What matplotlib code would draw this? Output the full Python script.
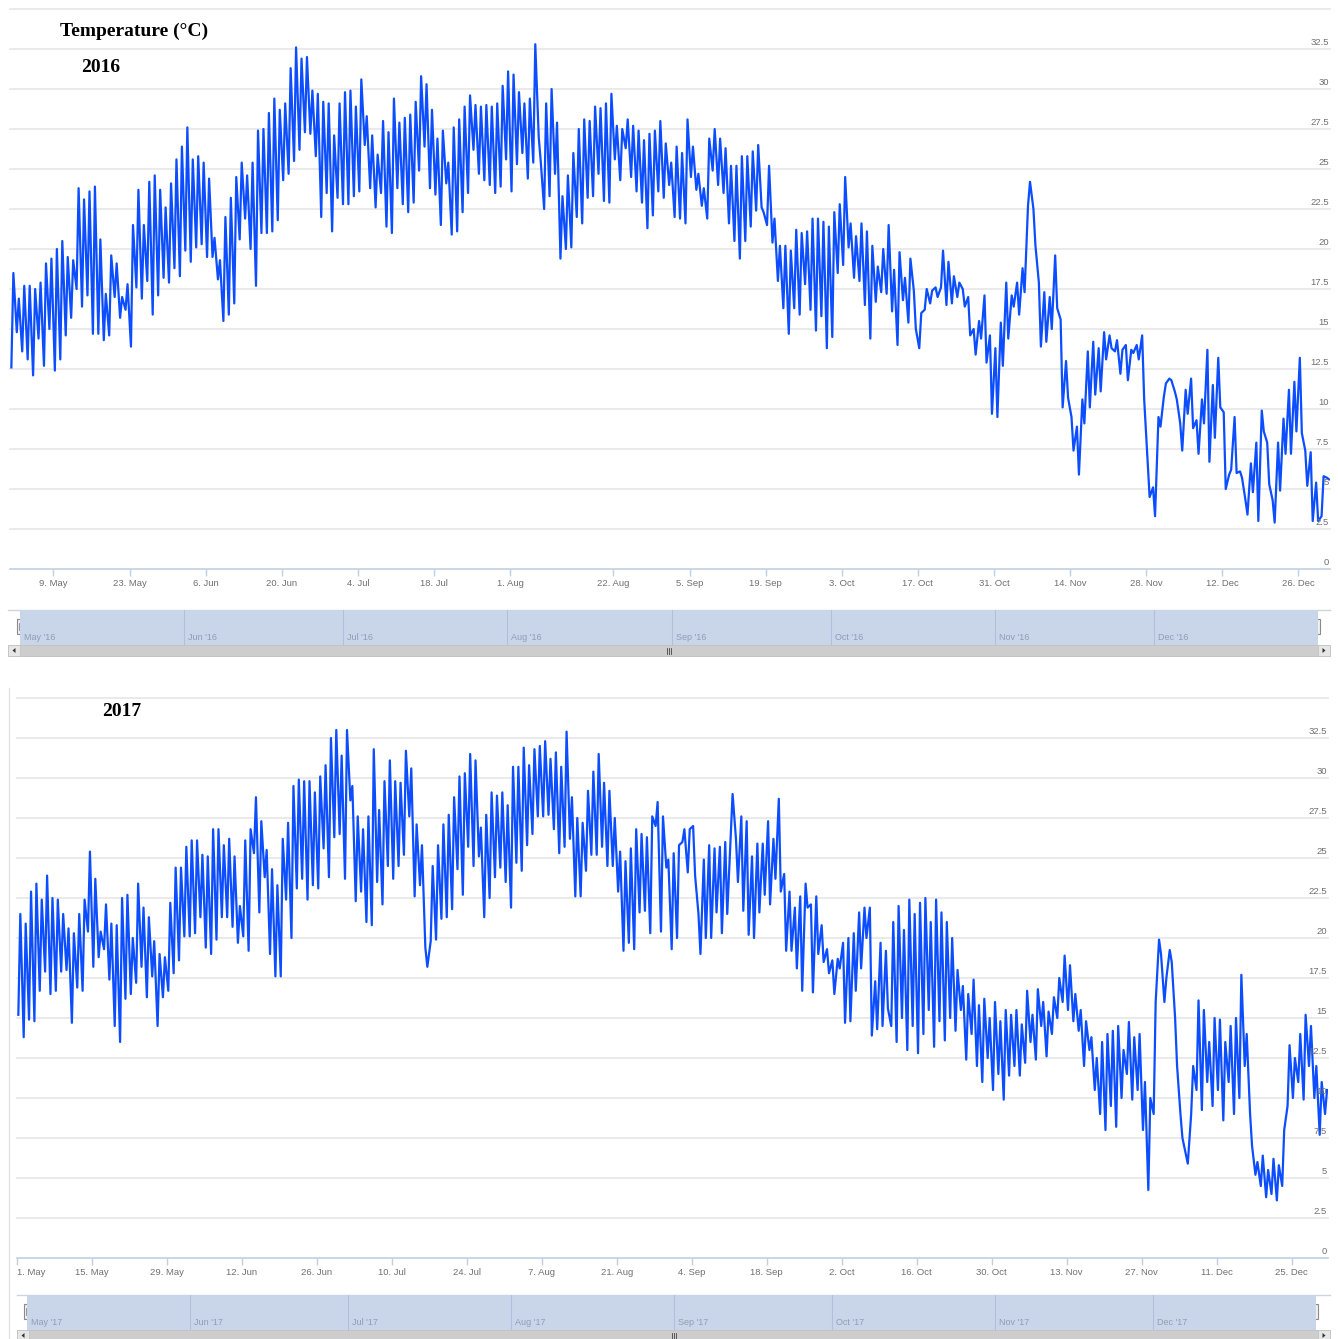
import matplotlib
matplotlib.use('Agg')
import matplotlib.pyplot as plt
from matplotlib.patches import Rectangle, Polygon
from matplotlib.transforms import blended_transform_factory, offset_copy
import numpy as np
import pandas as pd

plt.rcParams['font.family'] = ['Liberation Sans', 'DejaVu Sans']

W, H = 1338, 1339

# two readings per day (night, afternoon), 1 May - 31 Dec
# 2016: no readings on 6-7 Aug (ordinal axis skips them)
t16 = [
    # May
    12.6, 18.5, 14.8, 16.9, 13.6, 17.7, 13.1, 17.7, 12.1, 17.5,
    14.4, 17.9, 12.7, 19.1, 15.0, 19.4, 12.4, 20.0, 13.1, 20.5,
    14.6, 19.5, 15.7, 19.3, 17.5, 23.8, 16.4, 23.1, 17.1, 23.6,
    14.7, 23.9, 14.7, 20.6, 14.3, 17.2, 14.6, 19.6, 17.0, 19.1,
    15.7, 17.0, 16.2, 17.8, 13.9, 21.5, 17.6, 23.7, 16.9, 21.5,
    18.0, 24.2, 15.9, 24.6, 17.1, 23.7, 18.2, 22.6, 17.9, 24.1,
    18.8, 25.6,
    # Jun
    18.3, 26.4, 19.9, 27.6, 19.2, 25.6, 20.1, 25.8, 20.3, 25.4,
    19.5, 24.4, 19.5, 20.7, 18.1, 19.3, 15.5, 22.0, 15.9, 23.2,
    16.6, 24.5, 20.6, 25.4, 21.9, 24.6, 20.0, 25.4, 17.7, 27.4,
    21.0, 27.5, 21.0, 28.5, 21.1, 29.4, 21.8, 28.7, 24.3, 29.1,
    24.7, 31.3, 25.5, 32.6, 26.2, 31.9, 27.3, 32.0, 27.2, 29.9,
    25.8, 29.7, 22.0, 29.2, 23.5, 29.1, 21.1, 27.1, 23.2, 29.1,
    # Jul
    22.8, 29.8, 22.8, 29.9, 23.3, 28.9, 23.6, 30.6, 26.5, 28.3,
    23.8, 27.1, 22.6, 25.9, 23.5, 28.0, 21.4, 27.3, 21.0, 29.4,
    23.8, 27.9, 22.8, 28.2, 22.3, 28.4, 22.9, 29.2, 24.9, 30.8,
    26.4, 30.3, 23.8, 28.7, 23.4, 26.9, 21.5, 27.4, 24.1, 25.4,
    20.9, 27.6, 21.1, 28.1, 22.3, 28.9, 23.5, 29.6, 26.2, 29.0,
    24.7, 28.9, 24.3, 29.0, 24.0, 28.9, 23.5, 29.1, 23.9, 30.2,
    25.6, 31.1,
    # Aug
    23.6, 30.9, 25.3, 29.8, 26.0, 29.1, 24.4, 29.4, 25.4, 32.8,
    27.0, 25.5, 22.5, 29.1, 23.3, 30.0, 24.7, 27.9, 19.4, 23.3,
    20.0, 24.6, 20.1, 26.0, 22.0, 27.5, 21.6, 28.1, 23.2, 28.0,
    23.3, 28.9, 24.7, 28.8, 23.0, 29.1, 22.9, 29.7, 25.6, 27.7,
    24.3, 27.5, 26.3, 28.1, 24.5, 27.7, 23.6, 27.4, 22.9, 26.8,
    21.3, 27.2, 22.1, 27.4, 23.6, 28.0, 23.2, 26.6,
    # Sep
    24.0, 25.4, 22.0, 26.4, 21.9, 26.0, 21.6, 28.1, 24.5, 26.4,
    23.7, 24.7, 22.7, 23.8, 21.9, 26.9, 24.9, 27.5, 24.0, 26.9,
    23.5, 26.3, 21.6, 25.2, 20.5, 25.2, 19.4, 25.8, 20.5, 25.8,
    21.4, 26.1, 22.4, 26.5, 22.6, 22.3, 21.5, 25.2, 20.4, 21.9,
    18.0, 20.2, 16.3, 20.2, 14.7, 19.9, 16.3, 21.2, 15.9, 21.0,
    17.8, 21.1, 16.2, 21.9, 14.9, 21.9, 15.8, 21.7, 13.8, 21.4,
    # Oct
    14.5, 22.3, 18.5, 22.8, 19.0, 24.5, 20.1, 21.6, 18.2, 20.8,
    18.0, 21.6, 16.5, 21.1, 14.4, 20.2, 16.7, 18.9, 17.3, 20.0,
    17.2, 21.5, 16.1, 18.7, 14.0, 19.8, 16.8, 18.2, 15.4, 19.4,
    17.4, 15.0, 13.8, 16.0, 16.2, 17.5, 16.6, 17.4, 17.6, 17.0,
    17.6, 19.9, 16.5, 19.2, 16.6, 18.3, 17.0, 17.9, 17.5, 16.4,
    17.0, 14.6, 15.0, 13.4, 15.5, 14.4, 17.1, 12.9, 14.6, 9.7,
    13.8, 9.5,
    # Nov
    15.4, 12.7, 17.9, 14.4, 17.1, 16.4, 17.9, 15.9, 18.8, 17.3,
    22.7, 24.2, 22.5, 20.2, 17.9, 13.9, 17.3, 14.2, 17.0, 15.0,
    19.6, 16.3, 15.6, 10.1, 13.0, 10.7, 9.5, 7.4, 8.9, 5.9,
    10.6, 9.1, 13.6, 10.1, 14.2, 10.9, 13.8, 11.1, 14.8, 13.1,
    14.6, 13.8, 13.6, 14.3, 12.2, 13.7, 14.0, 11.8, 13.7, 13.5,
    14.0, 13.1, 14.6, 10.6, 6.8, 4.5, 5.1, 3.3, 9.5, 8.9,
    # Dec
    10.8, 11.6, 11.9, 11.8, 11.1, 10.6, 9.1, 7.4, 11.2, 9.7,
    11.9, 8.8, 9.3, 7.2, 10.6, 9.1, 13.7, 6.7, 11.5, 8.2,
    13.2, 10.1, 9.8, 5.0, 5.9, 6.2, 9.5, 6.0, 6.1, 5.7,
    4.3, 3.4, 6.6, 4.8, 7.9, 3.0, 9.9, 8.6, 7.9, 5.3,
    4.3, 2.9, 7.9, 4.9, 9.4, 7.2, 11.2, 7.2, 11.7, 8.6,
    13.2, 8.5, 7.4, 5.2, 7.3, 3.0, 5.4, 3.0, 3.3, 5.8,
    5.7, 5.6,
]

t17 = [
    # May
    15.2, 21.5, 13.8, 20.9, 14.9, 22.9, 14.8, 23.4, 16.7, 22.4,
    17.9, 23.9, 16.5, 22.5, 16.7, 22.4, 17.9, 21.5, 18.0, 20.6,
    14.7, 20.3, 16.9, 21.5, 16.7, 22.4, 20.4, 25.4, 18.2, 23.7,
    18.8, 20.4, 19.3, 22.1, 17.4, 20.9, 14.5, 20.8, 13.5, 22.5,
    16.2, 22.7, 16.5, 20.0, 17.2, 23.4, 18.2, 21.9, 16.3, 21.3,
    17.6, 19.8, 14.5, 19.0, 16.3, 18.8, 16.7, 22.2, 17.8, 24.4,
    18.6, 24.4,
    # Jun
    20.1, 25.7, 20.1, 26.1, 20.3, 26.1, 21.3, 25.2, 19.4, 25.1,
    19.0, 26.8, 19.9, 26.8, 21.3, 25.8, 21.3, 26.2, 20.7, 25.1,
    19.7, 22.0, 20.1, 26.1, 19.2, 26.8, 25.3, 28.8, 21.6, 27.3,
    23.8, 25.5, 19.0, 24.3, 17.6, 23.3, 17.6, 26.2, 22.4, 27.2,
    20.0, 29.5, 23.1, 29.9, 23.7, 29.8, 22.4, 29.8, 23.3, 29.1,
    23.1, 30.1, 25.6, 30.8, 23.8, 32.5, 26.3, 33.0, 26.5, 31.4,
    # Jul
    23.7, 33.0, 28.6, 29.5, 22.3, 27.6, 22.9, 26.8, 21.0, 27.6,
    20.8, 31.8, 23.5, 28.0, 22.1, 29.8, 24.5, 31.1, 23.7, 29.8,
    24.5, 29.7, 25.2, 31.7, 27.6, 30.6, 22.6, 27.1, 23.3, 25.8,
    19.4, 18.2, 19.8, 24.5, 19.9, 25.8, 21.2, 27.1, 21.3, 27.7,
    21.8, 28.8, 24.3, 30.1, 22.7, 30.3, 25.7, 31.5, 24.5, 31.1,
    25.1, 26.9, 21.3, 27.7, 22.5, 29.1, 23.8, 28.9, 24.4, 29.1,
    23.5, 28.3,
    # Aug
    21.9, 30.7, 24.7, 30.7, 24.2, 31.9, 25.8, 30.8, 26.5, 31.8,
    27.6, 32.0, 27.6, 32.3, 27.7, 31.2, 26.8, 31.6, 25.3, 30.7,
    25.7, 32.9, 26.2, 28.8, 22.6, 27.5, 22.6, 27.2, 24.2, 29.2,
    25.2, 30.4, 25.2, 31.5, 25.7, 29.7, 24.5, 29.2, 24.5, 27.5,
    22.9, 25.4, 19.2, 24.8, 19.7, 25.6, 19.3, 26.8, 21.6, 26.5,
    21.7, 26.3, 20.3, 27.6, 27.0, 28.5, 20.4, 27.6, 24.4, 24.9,
    19.3, 25.3,
    # Sep
    20.0, 25.8, 26.0, 26.8, 24.1, 26.8, 27.0, 23.9, 21.5, 19.0,
    24.9, 20.0, 25.8, 20.0, 25.6, 21.6, 25.7, 20.3, 26.0, 21.5,
    26.2, 29.0, 26.2, 23.5, 27.6, 21.7, 27.3, 20.2, 25.1, 20.0,
    25.9, 21.6, 25.9, 22.7, 27.3, 22.1, 26.2, 23.7, 28.7, 22.9,
    24.0, 19.2, 22.9, 19.2, 21.9, 18.1, 22.6, 16.7, 23.4, 21.9,
    22.1, 16.6, 22.6, 19.0, 20.8, 18.5, 19.3, 17.8, 18.6, 16.5,
    # Oct
    18.7, 18.1, 19.7, 14.7, 20.0, 14.8, 20.3, 16.7, 21.6, 18.1,
    21.9, 20.0, 21.9, 13.9, 17.3, 14.3, 19.7, 14.5, 19.2, 15.6,
    14.5, 21.0, 13.5, 22.0, 15.0, 20.5, 13.0, 22.4, 14.5, 21.5,
    12.8, 22.2, 14.0, 22.5, 15.5, 21.0, 13.2, 22.4, 14.8, 21.6,
    13.6, 21.0, 15.0, 20.0, 14.2, 18.0, 15.5, 17.0, 12.4, 16.5,
    14.0, 17.4, 12.0, 15.8, 11.0, 16.2, 12.5, 15.0, 10.5, 16.0,
    11.5, 14.8,
    # Nov
    9.9, 15.5, 11.4, 15.2, 12.0, 15.5, 11.4, 14.6, 12.2, 16.7,
    13.5, 15.2, 12.4, 16.8, 14.5, 16.0, 12.6, 15.4, 14.0, 16.3,
    15.0, 17.5, 16.0, 18.9, 15.5, 18.3, 14.8, 16.5, 14.2, 15.5,
    12.0, 14.8, 13.0, 13.8, 10.5, 12.5, 9.0, 13.5, 8.0, 14.0,
    9.5, 14.2, 8.2, 14.5, 10.0, 13.0, 11.5, 14.75, 9.9, 13.8,
    10.5, 14.0, 8.0, 11.0, 4.25, 10.0, 9.0, 16.0, 19.9, 19.0,
    # Dec
    16.0, 17.5, 19.25, 18.5, 15.0, 12.0, 9.0, 7.5, 6.5, 5.9,
    9.0, 12.0, 10.5, 16.1, 9.25, 15.5, 11.0, 13.5, 9.5, 15.0,
    10.5, 14.9, 8.6, 13.5, 11.0, 14.5, 9.0, 15.0, 10.0, 17.7,
    12.0, 14.0, 9.0, 7.0, 5.2, 6.0, 4.5, 6.4, 3.8, 5.5,
    4.0, 6.2, 3.6, 5.8, 4.5, 8.0, 9.5, 13.3, 10.0, 12.5,
    11.0, 14.0, 9.9, 15.2, 12.0, 14.5, 10.0, 12.0, 7.7, 11.0,
    9.0, 10.5,
]

missing16 = ['2016-08-06', '2016-08-07']
ticks16 = ['2016-05-09', '2016-05-23', '2016-06-06', '2016-06-20', '2016-07-04',
           '2016-07-18', '2016-08-01', '2016-08-22', '2016-09-05', '2016-09-19',
           '2016-10-03', '2016-10-17', '2016-10-31', '2016-11-14', '2016-11-28',
           '2016-12-12', '2016-12-26']
ticks17 = ['2017-05-01', '2017-05-15', '2017-05-29', '2017-06-12', '2017-06-26',
           '2017-07-10', '2017-07-24', '2017-08-07', '2017-08-21', '2017-09-04',
           '2017-09-18', '2017-10-02', '2017-10-16', '2017-10-30', '2017-11-13',
           '2017-11-27', '2017-12-11', '2017-12-25']
y_ticks = [0, 2.5, 5, 7.5, 10, 12.5, 15, 17.5, 20, 22.5, 25, 27.5, 30, 32.5]

BLUE = '#0b4dff'
GRID = '#e6e6e6'
AXIS = '#c0d0e0'
LABEL = '#707070'
NAV = '#c9d6ea'
NAV_LINE = '#b0c0da'
NAV_TEXT = '#8e9cb6'

fig = plt.figure(figsize=(W / 100, H / 100), dpi=100)

bg = fig.add_axes([0, 0, 1, 1], zorder=0)
bg.set_xlim(0, W)
bg.set_ylim(H, 0)
bg.axis('off')


def px_axes(x0, y0, x1, y1, z=2):
    a = fig.add_axes([x0 / W, 1 - y1 / H, (x1 - x0) / W, (y1 - y0) / H], zorder=z)
    a.set_facecolor('none')
    return a


def draw_year(year, temps, missing, tick_days, plot_box, nav_box, bar_box, first_left):
    days = pd.date_range(f'{year}-05-01', f'{year}-12-31')
    days = days[~days.isin(pd.to_datetime(missing))]
    n = len(days)
    assert len(temps) == 2 * n, (year, len(temps), 2 * n)
    pos = np.arange(n)
    x = np.column_stack([pos + 0.25, pos + 0.62]).ravel()

    ax = px_axes(*plot_box)
    ax.set_xlim(0, n - 0.2)
    ax.set_ylim(0, 35)
    for v in y_ticks[1:] + [35]:
        ax.axhline(v, color=GRID, lw=1.2, zorder=0, clip_on=False)
    ax.plot(x, temps, color=BLUE, lw=1.6, zorder=3, solid_joinstyle='round')
    for s in ax.spines.values():
        s.set_visible(False)
    ax.spines['bottom'].set_visible(True)
    ax.spines['bottom'].set_color(AXIS)
    ax.spines['bottom'].set_linewidth(1.2)
    ax.set_yticks([])
    tds = pd.to_datetime(tick_days)
    ax.set_xticks([days.get_loc(t) for t in tds])
    ax.set_xticklabels([f'{t.day}. {t:%b}' for t in tds], fontsize=6.8, color=LABEL)
    ax.tick_params(axis='x', length=5, width=1, color=AXIS, pad=2.5)
    if first_left:
        ax.get_xticklabels()[0].set_ha('left')
    tr = offset_copy(blended_transform_factory(ax.transAxes, ax.transData),
                     fig=fig, x=-1, y=2, units='dots')
    for v in y_ticks:
        ax.text(1.0, v, f'{v:g}', transform=tr, ha='right', va='bottom',
                fontsize=6.8, color=LABEL, zorder=4)

    # navigator band with month separators
    nx0, ny0, nx1, ny1 = nav_box
    bg.plot([bar_box[0], bar_box[2]], [ny0, ny0], color='#cfd3da', lw=1)
    nav = px_axes(*nav_box, z=1)
    full = pd.date_range(f'{year}-05-01', f'{year}-12-31')
    nav.set_xlim(0, len(full))
    nav.set_ylim(0, 1)
    nav.set_facecolor(NAV)
    nav.set_xticks([])
    nav.set_yticks([])
    for s in nav.spines.values():
        s.set_visible(False)
    months = pd.date_range(f'{year}-05-01', f'{year}-12-01', freq='MS')
    ntr = offset_copy(nav.transData, fig=fig, x=4, y=0, units='dots')
    for m in months:
        d = (m - full[0]).days
        if d > 0:
            nav.axvline(d, color=NAV_LINE, lw=0.8)
        nav.text(d, 0.22, f"{m:%b} '{m:%y}", transform=ntr, fontsize=6.5,
                 color=NAV_TEXT, va='center', ha='left')

    # handles at both ends of the navigator
    hy = ny0 + 9
    for hx in (nx0, nx1 - 2):
        bg.add_patch(Rectangle((hx - 3, hy), 7, 15, facecolor='#f0f0f0',
                               edgecolor='#8a8a8a', lw=0.8, zorder=3))
        for dx in (-0.8, 1.2):
            bg.plot([hx + dx, hx + dx], [hy + 4, hy + 11], color='#8a8a8a', lw=0.6, zorder=4)

    # scrollbar under the navigator
    bx0, by0, bx1, by1 = bar_box
    bg.add_patch(Rectangle((bx0, by0), bx1 - bx0, by1 - by0, facecolor='#cdcdcd',
                           edgecolor='#bdbdbd', lw=0.6, zorder=2))
    for (a, b, d) in ((bx0, bx0 + 12, -1), (bx1 - 12, bx1, 1)):
        bg.add_patch(Rectangle((a, by0), b - a, by1 - by0, facecolor='#e6e6e6',
                               edgecolor='#c4c4c4', lw=0.6, zorder=3))
        cx, cy = (a + b) / 2, (by0 + by1) / 2
        bg.add_patch(Polygon([(cx - 1.5 * d, cy - 2.5), (cx - 1.5 * d, cy + 2.5),
                              (cx + 1.5 * d, cy)], closed=True,
                             facecolor='#333333', edgecolor='none', zorder=4))
    mx, cy = (bx0 + bx1) / 2, (by0 + by1) / 2
    for dx in (-2, 0, 2):
        bg.plot([mx + dx, mx + dx], [cy - 3, cy + 3], color='#444444', lw=0.6, zorder=4)


draw_year(2016, t16, missing16, ticks16, (10, 9, 1330, 569),
          (20, 610, 1318, 645), (8, 645, 1330, 656), False)
draw_year(2017, t17, [], ticks17, (17, 698, 1328, 1258),
          (27, 1295, 1316, 1330), (17, 1330, 1330, 1341), True)

# container border of the lower chart
bg.plot([9, 9], [688, 1339], color='#e3e3e3', lw=1)

title_kw = dict(fontfamily=['Liberation Serif', 'DejaVu Serif'], fontweight='bold',
                fontsize=14, color='black', ha='center', va='center', zorder=5,
                bbox=dict(facecolor='white', edgecolor='none', pad=1))
bg.text(134, 31, 'Temperature (°C)', **title_kw)
bg.text(101, 67, '2016', **title_kw)
bg.text(122, 712, '2017', **title_kw)

fig.savefig('out.png', dpi=100, facecolor='white')
